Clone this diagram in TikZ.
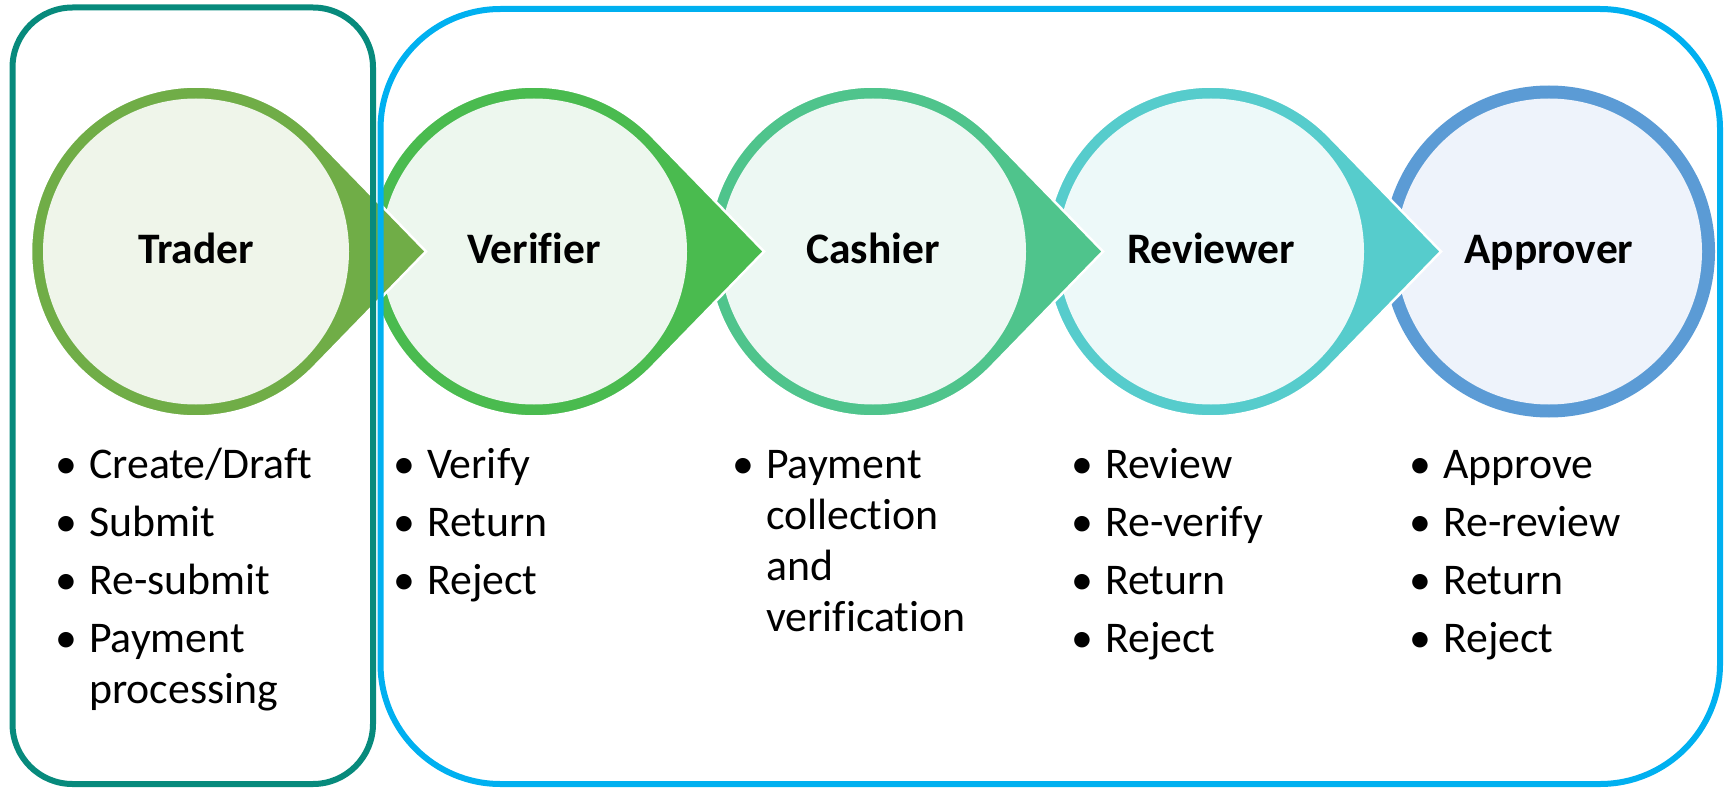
\documentclass[tikz,border=0pt]{standalone}
\usepackage{fontspec}
\setmainfont{Carlito}[Ligatures=NoCommon]
\definecolor{cTrader}{HTML}{70AD47}
\definecolor{lTrader}{HTML}{EFF5EA}
\definecolor{cVerifier}{HTML}{4ABB4F}
\definecolor{lVerifier}{HTML}{EDF7EE}
\definecolor{cCashier}{HTML}{4FC48C}
\definecolor{lCashier}{HTML}{EDF8F3}
\definecolor{cReviewer}{HTML}{56CCCC}
\definecolor{lReviewer}{HTML}{EDF9F9}
\definecolor{cApprover}{HTML}{5B9BD5}
\definecolor{lApprover}{HTML}{EEF3FB}
\definecolor{cTealBox}{HTML}{078A7C}
\definecolor{cBlueBox}{HTML}{00B0F0}
\newcommand\bul{\makebox[0pt]{\textbullet}\hspace{23pt}}
\newcommand\cont{\hspace*{23pt}}
\begin{document}
\begin{tikzpicture}[x=1pt,y=-1pt,
  hull/.style={draw=white,line width=2.5pt},
  inner/.style={circle,inner sep=0pt,minimum size=306pt,
     text height=32pt,text depth=9pt,
     font=\fontsize{43.5}{50}\selectfont\bfseries},
  blist/.style={inner sep=0pt,anchor=base west,
     font=\fontsize{43.8}{51}\selectfont},
  boxline/.style={line width=6pt}]
\useasboundingbox (0,0) rectangle (1727,789);
% Approver (no arrow)
\fill[cApprover] (1549,251.5) circle[radius=166];
\node[inner,fill=lApprover] (approver) at (1549,251.5) {Approver};
% Reviewer
\path[hull,fill=cReviewer] (1211,251.5) ++(43.8:165) arc[start angle=43.8,end angle=316.2,radius=165] -- (1441,251.5) -- cycle;
\node[inner,fill=lReviewer] (reviewer) at (1211,251.5) {Reviewer};
% Cashier
\path[hull,fill=cCashier] (873,251.5) ++(43.8:165) arc[start angle=43.8,end angle=316.2,radius=165] -- (1103,251.5) -- cycle;
\node[inner,fill=lCashier] (cashier) at (873,251.5) {Cashier};
% Verifier
\path[hull,fill=cVerifier] (534,251.5) ++(43.8:165) arc[start angle=43.8,end angle=316.2,radius=165] -- (764,251.5) -- cycle;
\node[inner,fill=lVerifier] (verifier) at (534,251.5) {Verifier};
% Trader
\path[hull,fill=cTrader] (196,251.5) ++(43.8:165) arc[start angle=43.8,end angle=316.2,radius=165] -- (426,251.5) -- cycle;
\node[inner,fill=lTrader] (trader) at (196,251.5) {Trader};
% lists
\node[blist] (traderlist) at (66,478.5) {\begin{tabular}[t]{@{}l@{}}
\bul Create/Draft\\[7pt] \bul Submit\\[7pt] \bul Re-submit\\[7pt] \bul Payment\\ \cont processing\end{tabular}};
\node[blist] (verifierlist) at (404,478.5) {\begin{tabular}[t]{@{}l@{}}
\bul Verify\\[7pt] \bul Return\\[7pt] \bul Reject\end{tabular}};
\node[blist] (cashierlist) at (743,478.5) {\begin{tabular}[t]{@{}l@{}}
\bul Payment\\ \cont collection\\ \cont and\\ \cont verification\end{tabular}};
\node[blist] (reviewerlist) at (1082,478.5) {\begin{tabular}[t]{@{}l@{}}
\bul Review\\[7pt] \bul Re-verify\\[7pt] \bul Return\\[7pt] \bul Reject\end{tabular}};
\node[blist] (approverlist) at (1420,478.5) {\begin{tabular}[t]{@{}l@{}}
\bul Approve\\[7pt] \bul Re-review\\[7pt] \bul Return\\[7pt] \bul Reject\end{tabular}};
% group boxes
\draw[boxline,draw=cTealBox,rounded corners=60pt] (12.5,7.5) rectangle (373,784);
\draw[boxline,draw=cBlueBox,rounded corners=120pt] (380.5,9) rectangle (1720,784);
\end{tikzpicture}
\end{document}
